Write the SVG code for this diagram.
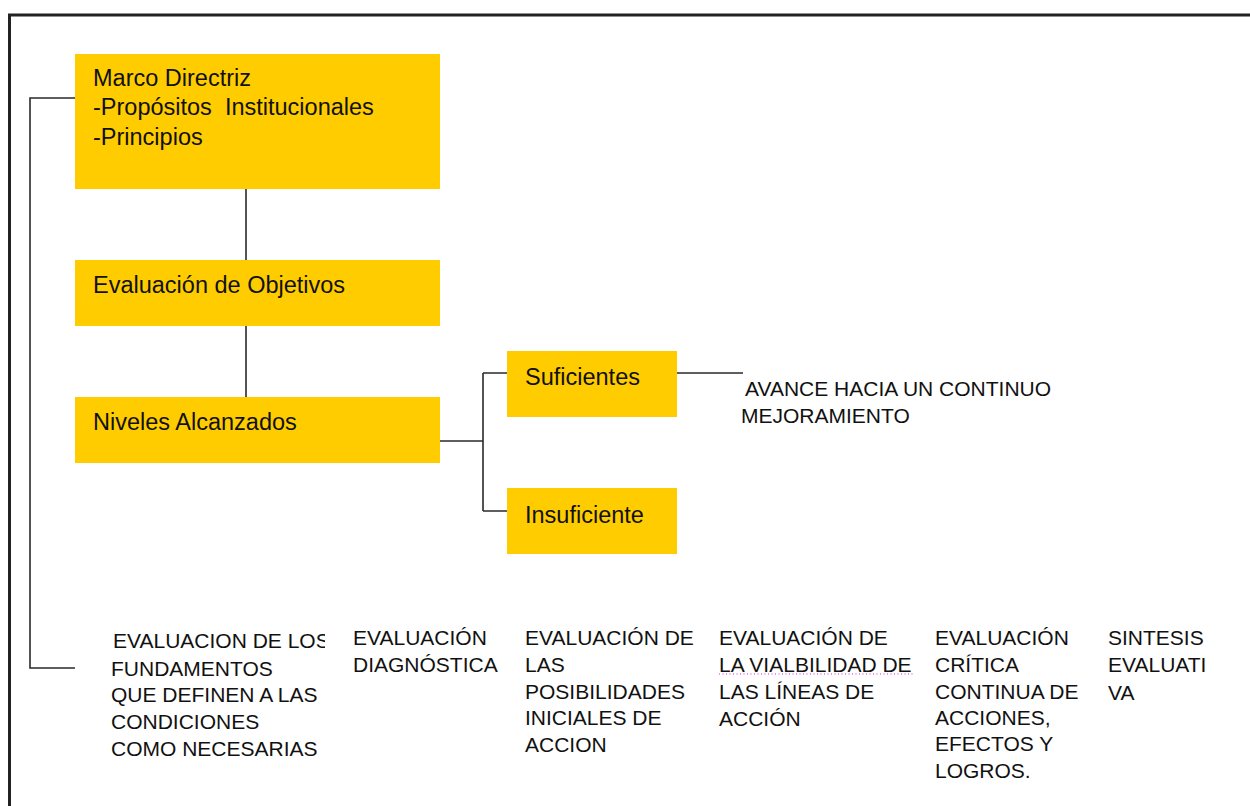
<svg xmlns="http://www.w3.org/2000/svg" width="1250" height="806" viewBox="0 0 1250 806">
<style>
.box{fill:#FFCC00}
.bt{font-family:"Liberation Sans",Arial,sans-serif;font-size:23.5px;fill:#111}
.lt{font-family:"Liberation Sans",Arial,sans-serif;font-size:21px;fill:#111}
.con{fill:none;stroke:#2a2a2a;stroke-width:1.6}
.frame{fill:none;stroke:#222;stroke-width:3}
</style>
<defs>
<clipPath id="c1"><rect x="100" y="620" width="225" height="160"/></clipPath>
</defs>
<path class="frame" d="M9.5,806 V15 H1250"/>
<g id="connectors">
<path class="con" d="M75,98 H30 V668 H75"/>
<path class="con" d="M246,189 V260"/>
<path class="con" d="M246,326 V397"/>
<path class="con" d="M440,441 H483 M483,373 V511 M483,373 H507 M483,511 H507"/>
<path class="con" d="M677,373 H743"/>
</g>
<g id="marco">
<rect class="box" x="75" y="54" width="365" height="135"/>
<text class="bt" x="93" y="86">Marco Directriz</text>
<text class="bt" x="93" y="115" xml:space="preserve">-Propósitos  Institucionales</text>
<text class="bt" x="93" y="145">-Principios</text>
</g>
<g id="objetivos">
<rect class="box" x="75" y="260" width="365" height="66"/>
<text class="bt" x="93" y="293">Evaluación de Objetivos</text>
</g>
<g id="niveles">
<rect class="box" x="75" y="397" width="365" height="66"/>
<text class="bt" x="93" y="430">Niveles Alcanzados</text>
</g>
<g id="suficientes">
<rect class="box" x="507" y="351" width="170" height="66"/>
<text class="bt" x="525" y="385">Suficientes</text>
</g>
<g id="insuficiente">
<rect class="box" x="507" y="488" width="170" height="66"/>
<text class="bt" x="525" y="523">Insuficiente</text>
</g>
<g id="avance">
<text class="lt" x="745" y="396">AVANCE HACIA UN CONTINUO</text>
<text class="lt" x="741" y="423">MEJORAMIENTO</text>
</g>
<g id="fundamentos">
<text class="lt" x="113" y="648" clip-path="url(#c1)">EVALUACION DE LOS</text>
<text class="lt" x="111" y="676">FUNDAMENTOS</text>
<text class="lt" x="111" y="702">QUE DEFINEN A LAS</text>
<text class="lt" x="111" y="729">CONDICIONES</text>
<text class="lt" x="111" y="756">COMO NECESARIAS</text>
</g>
<g id="diagnostica">
<text class="lt" x="353" y="645">EVALUACIÓN</text>
<text class="lt" x="353" y="672">DIAGNÓSTICA</text>
</g>
<g id="posibilidades">
<text class="lt" x="525" y="645">EVALUACIÓN DE</text>
<text class="lt" x="525" y="672">LAS</text>
<text class="lt" x="525" y="699">POSIBILIDADES</text>
<text class="lt" x="525" y="725">INICIALES DE</text>
<text class="lt" x="525" y="752">ACCION</text>
</g>
<g id="viabilidad">
<text class="lt" x="719" y="645">EVALUACIÓN DE</text>
<text class="lt" x="719" y="672">LA VIALBILIDAD DE</text>
<path d="M719,674 H914" stroke="#e020e0" stroke-width="1.2" stroke-dasharray="1 2.5" fill="none"/>
<text class="lt" x="719" y="699">LAS LÍNEAS DE</text>
<text class="lt" x="719" y="726">ACCIÓN</text>
</g>
<g id="critica">
<text class="lt" x="935" y="645">EVALUACIÓN</text>
<text class="lt" x="935" y="672">CRÍTICA</text>
<text class="lt" x="935" y="699">CONTINUA DE</text>
<text class="lt" x="935" y="725">ACCIONES,</text>
<text class="lt" x="935" y="751">EFECTOS Y</text>
<text class="lt" x="935" y="778">LOGROS.</text>
</g>
<g id="sintesis">
<text class="lt" x="1108" y="645">SINTESIS</text>
<text class="lt" x="1108" y="672">EVALUATI</text>
<text class="lt" x="1108" y="700">VA</text>
</g>
</svg>
